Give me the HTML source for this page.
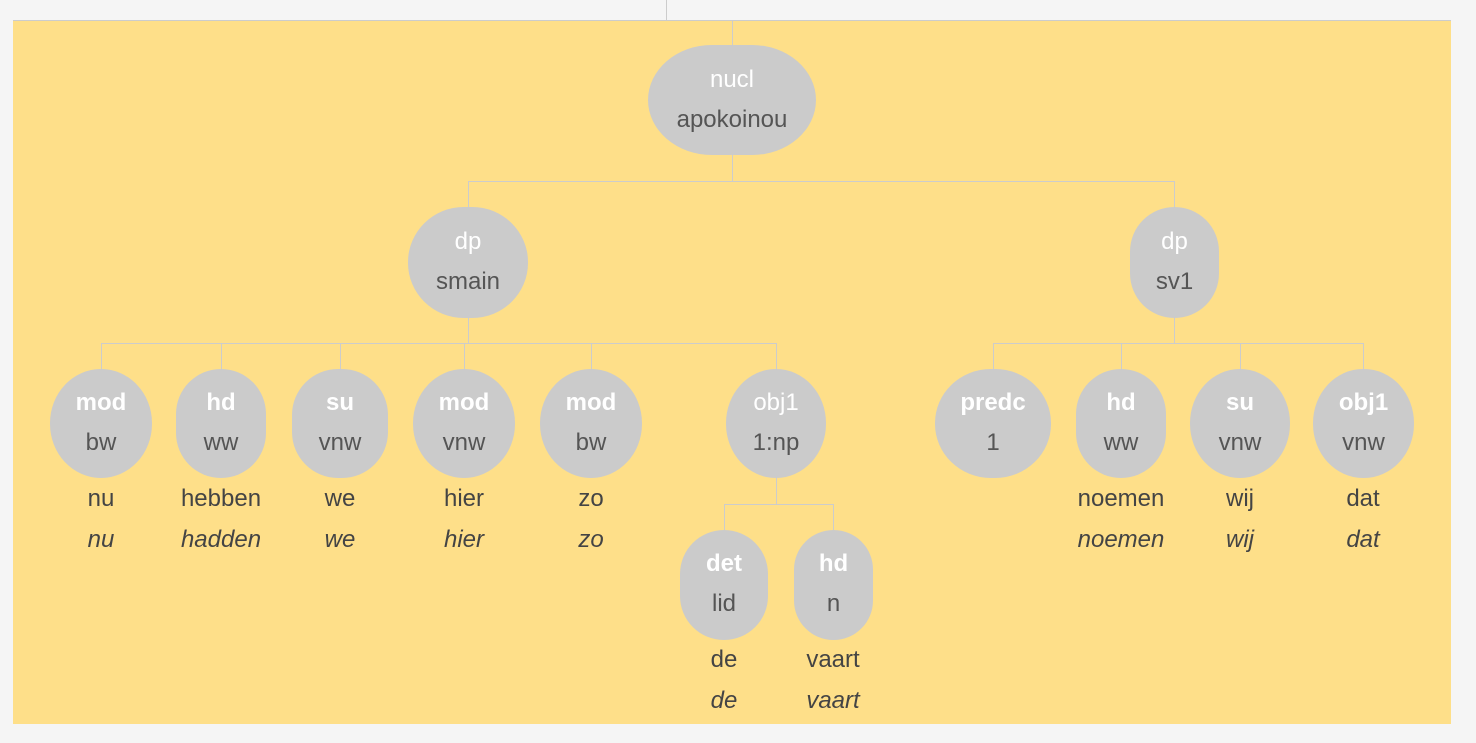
<!DOCTYPE html>
<html><head><style>
body{margin:0;width:1476px;height:743px;background:#f5f5f5;position:relative;overflow:hidden;font-family:"Liberation Sans",sans-serif;}
#p{position:absolute;left:13px;top:20px;width:1438px;height:704px;background:#fedf89;border-top:1px solid #ccc;box-sizing:border-box}
.n{position:absolute;background:#cbcbcb;border-radius:46px;text-align:center;font-size:24px;color:#555}
.n div{position:absolute;left:0;right:0}
.l{color:#fff}
.b{font-weight:bold}
.w{position:absolute;text-align:center;font-size:24px;color:#444;width:200px;line-height:26px}
.h{position:absolute;height:1px;background:#ccc}
.v{position:absolute;width:1px;background:#ccc}
</style></head><body>
<div class="v" style="left:666px;top:0;height:20px"></div>
<div id="p"></div>
<div class="v" style="left:732px;top:20px;height:162px"></div>
<div class="h" style="left:468px;top:181px;width:707px"></div>
<div class="v" style="left:468px;top:181px;height:162px"></div>
<div class="v" style="left:1174px;top:181px;height:162px"></div>
<div class="h" style="left:101px;top:343px;width:676px"></div>
<div class="h" style="left:993px;top:343px;width:371px"></div>
<div class="v" style="left:101px;top:343px;height:30px"></div>
<div class="v" style="left:221px;top:343px;height:30px"></div>
<div class="v" style="left:340px;top:343px;height:30px"></div>
<div class="v" style="left:464px;top:343px;height:30px"></div>
<div class="v" style="left:591px;top:343px;height:30px"></div>
<div class="v" style="left:776px;top:343px;height:162px"></div>
<div class="v" style="left:993px;top:343px;height:30px"></div>
<div class="v" style="left:1121px;top:343px;height:30px"></div>
<div class="v" style="left:1240px;top:343px;height:30px"></div>
<div class="v" style="left:1363px;top:343px;height:30px"></div>
<div class="h" style="left:724px;top:504px;width:110px"></div>
<div class="v" style="left:724px;top:504px;height:30px"></div>
<div class="v" style="left:833px;top:504px;height:30px"></div>

<div class="n" style="left:648px;top:45px;width:168px;height:110px;border-radius:64px/55px"><div class="l" style="top:21px">nucl</div><div style="top:61px">apokoinou</div></div>
<div class="n" style="left:408px;top:207px;width:120px;height:111px;border-radius:56px/55px"><div class="l" style="top:21px">dp</div><div style="top:61px">smain</div></div>
<div class="n" style="left:1130px;top:207px;width:89px;height:111px"><div class="l" style="top:21px">dp</div><div style="top:61px">sv1</div></div>

<div class="n" style="left:50px;top:369px;width:102px;height:109px;border-radius:51px/54px"><div class="l b" style="top:20px">mod</div><div style="top:60px">bw</div></div>
<div class="n" style="left:176px;top:369px;width:90px;height:109px"><div class="l b" style="top:20px">hd</div><div style="top:60px">ww</div></div>
<div class="n" style="left:292px;top:369px;width:96px;height:109px"><div class="l b" style="top:20px">su</div><div style="top:60px">vnw</div></div>
<div class="n" style="left:413px;top:369px;width:102px;height:109px;border-radius:51px/54px"><div class="l b" style="top:20px">mod</div><div style="top:60px">vnw</div></div>
<div class="n" style="left:540px;top:369px;width:102px;height:109px;border-radius:51px/54px"><div class="l b" style="top:20px">mod</div><div style="top:60px">bw</div></div>
<div class="n" style="left:726px;top:369px;width:100px;height:109px;border-radius:50px/54px"><div class="l" style="top:20px">obj1</div><div style="top:60px">1:np</div></div>
<div class="n" style="left:935px;top:369px;width:116px;height:109px;border-radius:56px/54px"><div class="l b" style="top:20px">predc</div><div style="top:60px">1</div></div>
<div class="n" style="left:1076px;top:369px;width:90px;height:109px"><div class="l b" style="top:20px">hd</div><div style="top:60px">ww</div></div>
<div class="n" style="left:1190px;top:369px;width:100px;height:109px;border-radius:50px/54px"><div class="l b" style="top:20px">su</div><div style="top:60px">vnw</div></div>
<div class="n" style="left:1313px;top:369px;width:101px;height:109px;border-radius:50px/54px"><div class="l b" style="top:20px">obj1</div><div style="top:60px">vnw</div></div>
<div class="n" style="left:680px;top:530px;width:88px;height:110px"><div class="l b" style="top:20px">det</div><div style="top:60px">lid</div></div>
<div class="n" style="left:794px;top:530px;width:79px;height:110px;border-radius:40px"><div class="l b" style="top:20px">hd</div><div style="top:60px">n</div></div>

<div class="w" style="left:1px;top:486px">nu</div><div class="w" style="left:1px;top:527px"><i>nu</i></div>
<div class="w" style="left:121px;top:486px">hebben</div><div class="w" style="left:121px;top:527px"><i>hadden</i></div>
<div class="w" style="left:240px;top:486px">we</div><div class="w" style="left:240px;top:527px"><i>we</i></div>
<div class="w" style="left:364px;top:486px">hier</div><div class="w" style="left:364px;top:527px"><i>hier</i></div>
<div class="w" style="left:491px;top:486px">zo</div><div class="w" style="left:491px;top:527px"><i>zo</i></div>
<div class="w" style="left:1021px;top:486px">noemen</div><div class="w" style="left:1021px;top:527px"><i>noemen</i></div>
<div class="w" style="left:1140px;top:486px">wij</div><div class="w" style="left:1140px;top:527px"><i>wij</i></div>
<div class="w" style="left:1263px;top:486px">dat</div><div class="w" style="left:1263px;top:527px"><i>dat</i></div>
<div class="w" style="left:624px;top:647px">de</div><div class="w" style="left:624px;top:688px"><i>de</i></div>
<div class="w" style="left:733px;top:647px">vaart</div><div class="w" style="left:733px;top:688px"><i>vaart</i></div>
</body></html>
